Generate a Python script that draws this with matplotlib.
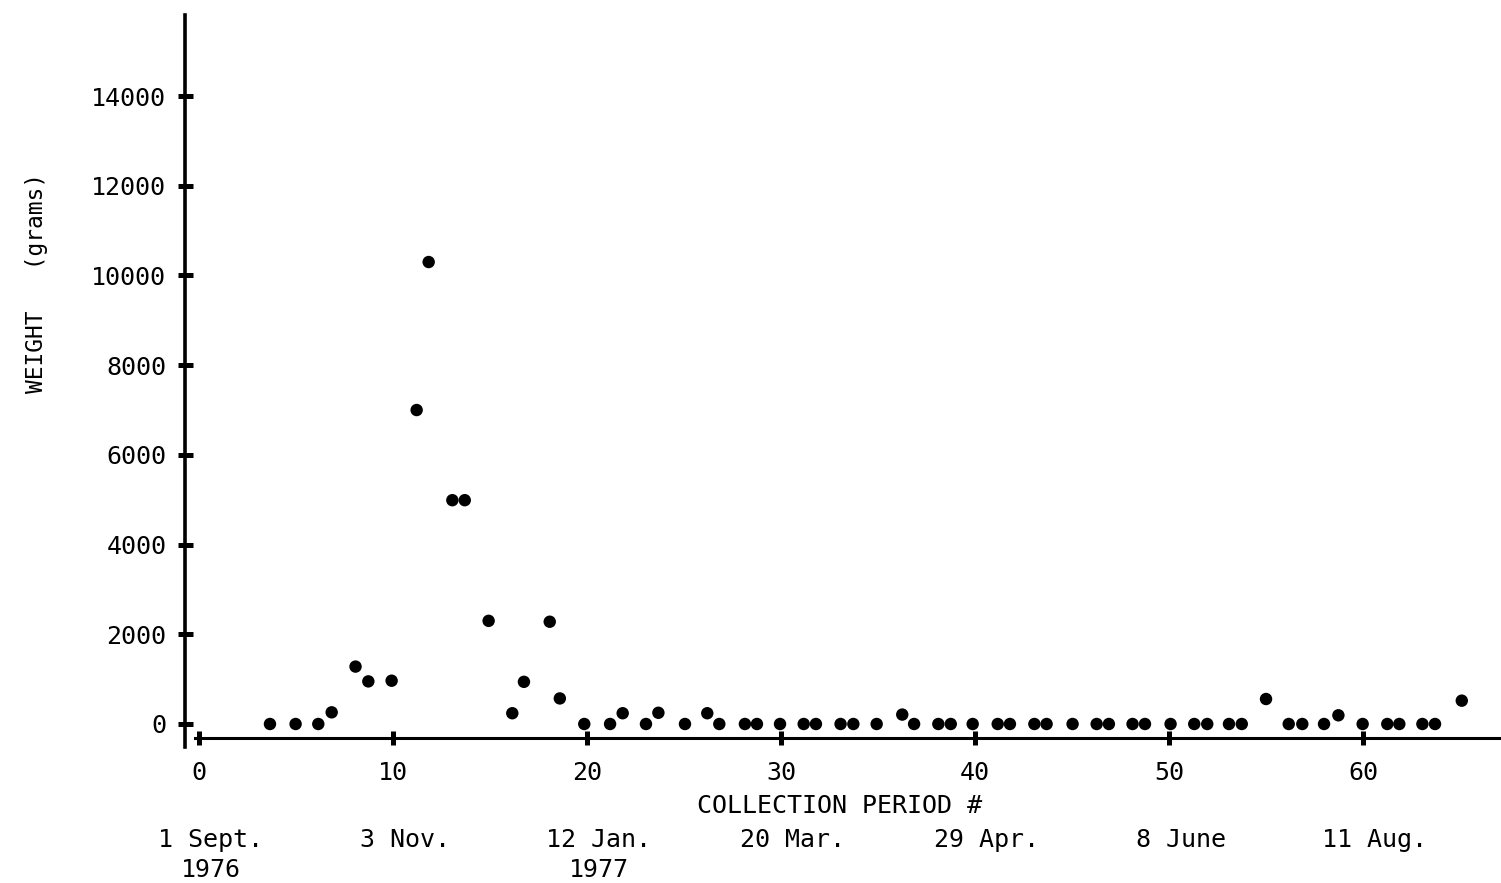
import matplotlib

matplotlib.use("Agg")
import matplotlib.pyplot as plt
from matplotlib.transforms import blended_transform_factory

# collection period (x) and weight in grams (y)
period = [3.66, 4.98, 6.15, 6.84, 8.07, 8.73, 9.93, 11.22, 11.84, 13.06, 13.70,
          14.93, 16.15, 16.75, 18.08, 18.60, 19.86, 21.19, 21.84, 23.04, 23.68,
          25.05, 26.20, 26.82, 28.14, 28.76, 29.95, 31.17, 31.80, 33.07, 33.73,
          34.93, 36.25, 36.86, 38.11, 38.75, 39.88, 41.17, 41.80, 43.06, 43.69,
          45.03, 46.27, 46.90, 48.12, 48.76, 50.08, 51.30, 51.97, 53.09, 53.75,
          55.00, 56.17, 56.87, 57.99, 58.73, 59.98, 61.25, 61.87, 63.06, 63.71,
          65.09]
weight = [0, 0, 0, 260, 1280, 950, 965, 7000, 10300, 4990, 4990,
          2300, 240, 940, 2280, 570, 0, 0, 240, 0, 250,
          0, 240, 0, 0, 0, 0, 0, 0, 0, 0,
          0, 210, 0, 0, 0, 0, 0, 0, 0, 0,
          0, 0, 0, 0, 0, 0, 0, 0, 0, 0,
          557, 0, 0, 0, 194, 0, 0, 0, 0, 0,
          520]

x_ticks = [0, 10, 20, 30, 40, 50, 60]
y_ticks = [0, 2000, 4000, 6000, 8000, 10000, 12000, 14000]
date_labels = ["1 Sept.\n1976", "3 Nov.", "12 Jan.\n1977", "20 Mar.",
               "29 Apr.", "8 June", "11 Aug."]

FONT = "DejaVu Sans Mono"
W, H = 1501, 883

fig = plt.figure(figsize=(W / 100, H / 100), dpi=100)
ax = fig.add_axes([185 / W, (H - 747) / H, (1500 - 185) / W, (747 - 15) / H])

ax.scatter(period, weight, s=80, color="black", edgecolors="none", zorder=3)

ax.set_xlim(-0.72, 67.06)
ax.set_ylim(-513, 15808)

for s in ("top", "right"):
    ax.spines[s].set_visible(False)
ax.spines["left"].set_linewidth(2.6)
ax.spines["bottom"].set_linewidth(2.2)
ax.spines["bottom"].set_position(("data", -312))
ax.spines["bottom"].set_bounds(-0.2, 67.06)

ax.set_xticks(x_ticks, [str(t) for t in x_ticks])
ax.set_yticks(y_ticks, [str(t) for t in y_ticks])
ax.tick_params(axis="x", direction="inout", length=9.5, width=3.6, pad=12,
               labelsize=18)
ax.tick_params(axis="y", direction="inout", length=10.8, width=3.6, pad=8,
               labelsize=18)
for lab in ax.get_xticklabels() + ax.get_yticklabels():
    lab.set_family(FONT)

trans = blended_transform_factory(ax.transData, fig.transFigure)
ax.text(33.0, 1 - 806 / H, "COLLECTION PERIOD #", transform=trans,
        ha="center", va="center", fontsize=18, family=FONT)
for t, lab in zip(x_ticks, date_labels):
    ax.text(t + 0.6, 1 - 828 / H, lab, transform=trans, ha="center", va="top",
            fontsize=18, family=FONT, linespacing=1.3, multialignment="center")

fig.text(37 / W, 1 - 283 / H, "WEIGHT   (grams)", rotation=90, ha="center",
         va="center", fontsize=16.5, family=FONT)

fig.savefig("out.png", dpi=100, facecolor="white")
